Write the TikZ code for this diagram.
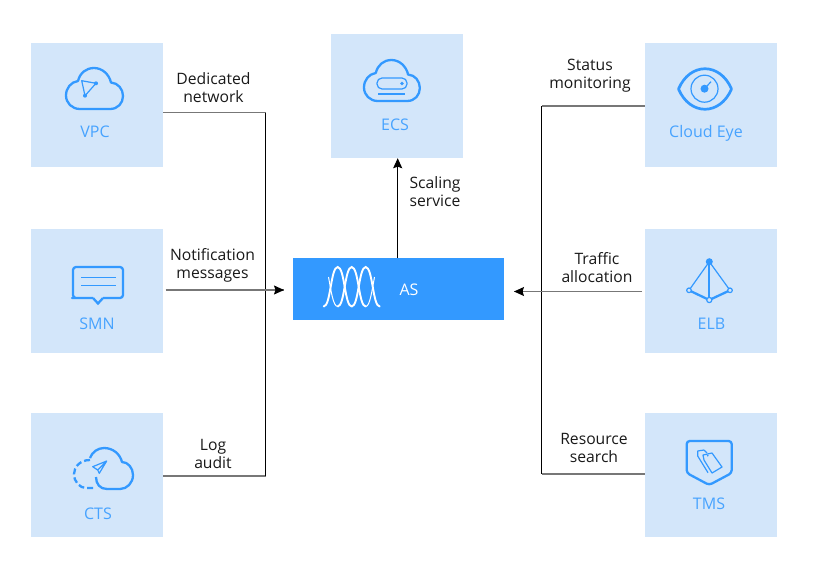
\documentclass[tikz,border=0pt]{standalone}
\usepackage{fontspec}
\setmainfont{Open Sans}
\usetikzlibrary{arrows.meta}
\definecolor{boxblue}{HTML}{D3E6FA}
\definecolor{iconblue}{HTML}{3399FF}
\definecolor{linegray}{HTML}{777777}
\tikzset{
  cloudline/.pic={
    \draw[pen] (14,41)--(44,41) .. controls (52,41) and (57,35) .. (57,28)
      .. controls (57,21) and (52,15) .. (45,14.5) .. controls (43,6) and (36,0) .. (28,0)
      .. controls (20,0) and (14,5) .. (12,13) .. controls (5,14) and (0,20) .. (0,27.5)
      .. controls (0,35) and (6,41) .. (14,41)--cycle;
  }
}
\begin{document}
\begin{tikzpicture}[x=1pt,y=-1pt,>={Stealth[length=10pt,width=9pt,inset=1.5pt]},font=\fontsize{15.7}{18}\selectfont]
\tikzstyle{box}=[fill=boxblue,minimum width=132pt,minimum height=124pt,inner sep=0pt]
\tikzstyle{boxtext}=[text=iconblue!90!white,font=\fontsize{16}{18}\selectfont,inner sep=0pt]
\tikzstyle{linktext}=[align=center,text=black!90,inner sep=0pt]
\tikzstyle{link}=[draw=linegray,line width=1.4pt]
\tikzstyle{bus}=[draw=black,line width=1pt]
\tikzstyle{tip}=[draw=black,line width=1pt,->]
\tikzstyle{pen}=[draw=iconblue,line width=2.3pt,line join=round]
\tikzstyle{thinpen}=[draw=iconblue,line width=1.2pt,line join=round]
\useasboundingbox (0,0) rectangle (814,562);
\node[box] (VPC) at (97,105) {};
\node[box][below of=VPC,node distance=186pt] (SMN) {};
\node[box][below of=SMN,node distance=184pt] (CTS) {};
\node[box][right of=VPC,node distance=614pt] (Eye) {};
\node[box][right of=SMN,node distance=614pt] (ELB) {};
\node[box][right of=CTS,node distance=614pt] (TMS) {};
\node[box] (ECS) at (397,96) {};
\node[fill=iconblue,minimum width=211pt,minimum height=62pt,inner sep=0pt] (AS) at (398.5,289) {};
\node[boxtext] (VPCname) at (95,132) {VPC};
\node[boxtext] (SMNname) at (97,323.5) {SMN};
\node[boxtext] (CTSname) at (98,513.5) {CTS};
\node[boxtext] (ECSname) at (395,124.5) {ECS};
\node[boxtext] (Eyename) at (706,133) {Cloud Eye};
\node[boxtext] (ELBname) at (711.5,323.5) {ELB};
\node[boxtext] (TMSname) at (709,504) {TMS};
\node[boxtext,text=white] (ASname) at (409,289.5) {AS};
\node[linktext] (dedicated) at (213.5,87.5) {Dedicated\\network};
\node[linktext] (notify) at (212.5,265.5) {Notification\\messages};
\node[linktext] (audit) at (213,453.5) {Log\\audit};
\node[linktext] (scaling) at (435,191.5) {Scaling\\service};
\node[linktext] (status) at (590,76) {Status\\monitoring};
\node[linktext] (traffic) at (597,267.5) {Traffic\\allocation};
\node[linktext] (search) at (594,447.5) {Resource\\search};
% left side
\coordinate (ltop) at (265.7,112.5);
\coordinate (lbot) at (265.7,476);
\coordinate (smnend) at (284,290);
\coordinate (smnstart) at (165.5,290);
\draw[link] (VPC.east |- ltop)--(ltop);
\draw[link] (CTS.east |- lbot)--(lbot);
\draw[bus] (ltop)--(lbot);
\draw[link] (smnstart)--(smnend);
\draw[tip] ([xshift=-8pt]smnend)--(smnend);
% right side
\coordinate (rtop) at (541.7,106);
\coordinate (rbot) at (541.7,474);
\coordinate (trafficstart) at (642,291.5);
\coordinate (trafficend) at (514,291.5);
\draw[link] (Eye.west |- rtop)--(rtop);
\draw[link] (TMS.west |- rbot)--(rbot);
\draw[bus] (rtop)--(rbot);
\draw[link] (trafficstart)--(trafficend);
\draw[tip] ([xshift=8pt]trafficend)--(trafficend);
% up to ECS
\coordinate (asup) at (397.7,258);
\draw[tip] (asup)--(asup |- ECS.south);
% VPC icon
\pic at (66,68) {cloudline};
\draw[thinpen] (81.7,80.7)--(96,83.3)--(85,95.7)--cycle;
\fill[iconblue] (96,83.3) circle (2) (85,95.7) circle (2);
% ECS icon
\pic[xscale=.98] at (364,60) {cloudline};
\draw[thinpen,rounded corners=5pt] (377,78) rectangle (407,89);
\fill[iconblue] (402,83.5) circle (1.8);
\draw[thinpen] (378,94)--(405,94);
% SMN icon
\draw[pen,rounded corners=3pt] (93,298)--(75,298)--(73,298)--(73,267)--(123,267)--(123,298)--(103,298);
\draw[pen,line join=miter] (93,298)--(98,303.5)--(103,298);
\draw[thinpen] (81,277.7)--(116,277.7) (81,285.7)--(116,285.7);
% CTS icon
\draw[pen] (96,477) .. controls (96,484) and (100,489) .. (107,489)--(120,489)
  .. controls (127,489) and (133,483) .. (133,475) .. controls (133,468) and (128,462) .. (122,462)
  .. controls (120,454) and (113,448) .. (104,448) .. controls (98,448) and (92,452) .. (90,458);
\draw[pen,dash pattern=on 6pt off 3pt] (90,460) .. controls (80,460) and (74,467) .. (74,474)
  .. controls (74,482) and (80,488) .. (86,488)--(95,488);
\draw[thinpen] (106.7,461)--(92.7,466.7)--(97.7,470)--(99.3,473.3)--cycle (97.7,470)--(106.7,461);
% Cloud Eye icon
\draw[pen,line width=2.7pt] (678.5,89) .. controls (690,62) and (720,62) .. (731.5,89)
  .. controls (720,116) and (690,116) .. (678.5,89)--cycle;
\draw[thinpen] (704.5,88.7) circle (13.5);
\fill[iconblue] (704.5,88.7) circle (4);
\draw[thinpen] (704.5,88.7)--(711,81.7);
% ELB icon
\draw[thinpen] (689,290.3)--(709.3,261.7)--(730,290.3);
\draw[pen] (709.3,261.7)--(709.3,300);
\draw[pen] (689,290.3)--(709.3,300)--(730,290.3);
\fill[iconblue] (709.3,261.7) circle (3.5);
\draw[thinpen,fill=boxblue] (689,290.3) circle (2.3) (709.3,300) circle (2.6) (730,290.3) circle (2.3);
% TMS icon
\draw[pen,rounded corners=3pt] (686.7,441)--(731.7,441)--(731.7,473)--(709.2,485)--(686.7,473)--cycle;
\draw[thinpen] (703,455)--(712,453)--(722,467)--(712,473)--(704,460)--cycle;
\draw[thinpen] (704,450)--(697.7,451)--(697.7,456)--(708,472.7) (704,450)--(707,453);
\fill[iconblue] (707.7,455.7) circle (1);
% AS icon
\foreach \peak in {337.7,351.7,365.7}
  \draw[white,line width=1.9pt,line cap=round] (\peak-14,306.5) .. controls (\peak-7,306.5) and (\peak-7,267) .. (\peak,267)
    .. controls (\peak+7,267) and (\peak+7,306.5) .. (\peak+14,306.5);
\draw[white,line width=1pt] (337.7,306.5) .. controls (333,306.5) and (331,290) .. (328.5,277);
\draw[white,line width=1pt] (365.7,306.5) .. controls (370,306.5) and (372,290) .. (374.5,277);
\end{tikzpicture}
\end{document}
